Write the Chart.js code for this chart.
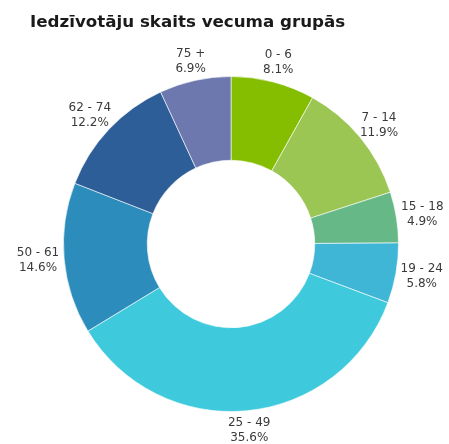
<!DOCTYPE html>
<html>
<head>
<meta charset="utf-8">
<script src="https://cdn.jsdelivr.net/npm/chart.js@4/dist/chart.umd.min.js"></script>
<style>
  html, body { margin: 0; padding: 0; background: #fff; }
  #wrap { position: relative; width: 449px; height: 444px; }
</style>
</head>
<body>
<div id="wrap"><canvas id="c" width="449" height="444"></canvas></div>
<script>
const title = 'Iedzīvotāju skaits vecuma grupās';
const categories = ['0 - 6', '7 - 14', '15 - 18', '19 - 24', '25 - 49', '50 - 61', '62 - 74', '75 +'];
const shares = [8.1, 11.9, 4.9, 5.8, 35.6, 14.6, 12.2, 6.9];
const colors = ['#85bd00', '#9cc653', '#66b986', '#40b6d7', '#3ecadc', '#2c8cbb', '#2d5e98', '#6c78ae'];

const labelPlugin = {
  id: 'outerLabels',
  afterDraw(chart) {
    const ctx = chart.ctx;
    ctx.save();
    // title
    ctx.fillStyle = '#1a1a1a';
    ctx.font = 'bold 16.7px "DejaVu Sans"';
    ctx.textAlign = 'left';
    ctx.textBaseline = 'alphabetic';
    ctx.fillText(title, 30, 27);

    const meta = chart.getDatasetMeta(0);
    ctx.font = '12px "DejaVu Sans"';
    ctx.fillStyle = '#3a3a3a';
    ctx.textAlign = 'center';
    ctx.textBaseline = 'middle';
    const lineH = 15;
    meta.data.forEach((arc, i) => {
      const p = arc.getProps(['x', 'y', 'startAngle', 'endAngle', 'outerRadius'], true);
      const mid = (p.startAngle + p.endAngle) / 2;
      const dx = Math.cos(mid), dy = Math.sin(mid);
      const lines = [categories[i], shares[i].toFixed(1) + '%'];
      const w = Math.max(...lines.map(l => ctx.measureText(l).width));
      const h = lines.length * lineH;
      const r = p.outerRadius + 5;
      const cx = p.x + dx * r + dx * w / 2;
      const cy = p.y + dy * r + dy * h / 2;
      lines.forEach((l, j) => {
        ctx.fillText(l, cx, cy - h / 2 + lineH / 2 + j * lineH);
      });
    });
    ctx.restore();
  }
};

new Chart(document.getElementById('c'), {
  type: 'doughnut',
  data: {
    labels: categories,
    datasets: [{
      data: shares,
      backgroundColor: colors,
      borderColor: 'rgba(255,255,255,0.6)',
      borderWidth: 1
    }]
  },
  options: {
    responsive: false,
    animation: false,
    cutout: '50%',
    layout: { padding: { left: 63, right: 50, top: 76, bottom: 32 } },
    plugins: {
      legend: { display: false },
      tooltip: { enabled: false },
      title: { display: false }
    }
  },
  plugins: [labelPlugin]
});
</script>
</body>
</html>
